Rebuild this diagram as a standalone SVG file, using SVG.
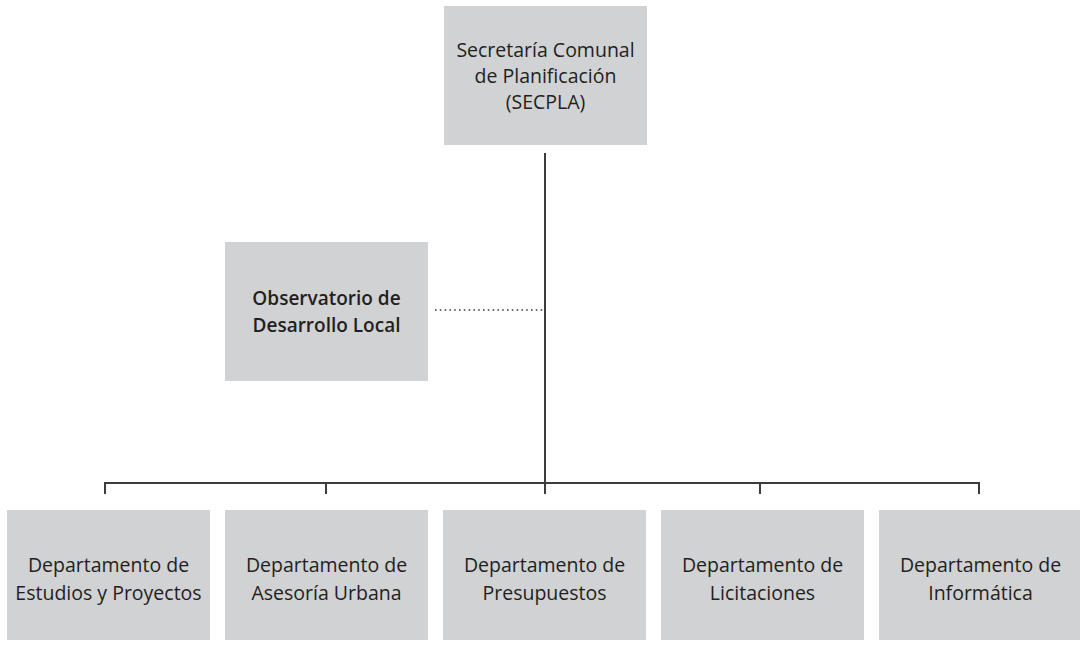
<svg xmlns="http://www.w3.org/2000/svg" width="1080" height="647" viewBox="0 0 1080 647">
<style>
.box{fill:#d1d2d4}
.t{font-family:"Open Sans","Noto Sans",sans-serif;font-size:19.5px;fill:#231f20;text-anchor:middle}
.b{font-weight:600;font-size:19px}
.ln{stroke:#3c3c3c;stroke-width:2;fill:none}
.dot{stroke:#3c3c3c;stroke-width:1.6;stroke-dasharray:1.6 3.2;fill:none}
</style>
<rect width="1080" height="647" fill="#ffffff"/>
<g id="connectors">
<path class="ln" d="M545 153V483M105 483H979M105 482V494M326 482V494M545 482V494M760 482V494M979 482V494"/>
<path class="dot" d="M435 310H545"/>
</g>
<g id="secpla">
<rect class="box" x="444" y="6" width="203" height="139"/>
<text class="t" x="545.5" y="57">Secretaría Comunal</text>
<text class="t" x="545.5" y="83">de Planificación</text>
<text class="t" x="545.5" y="109">(SECPLA)</text>
</g>
<g id="observatorio">
<rect class="box" x="225" y="242" width="203" height="139"/>
<text class="t b" x="326.5" y="305">Observatorio de</text>
<text class="t b" x="326.5" y="332">Desarrollo Local</text>
</g>
<g id="estudios">
<rect class="box" x="7" y="510" width="203" height="130"/>
<text class="t" x="108.5" y="572">Departamento de</text>
<text class="t" x="108.5" y="600">Estudios y Proyectos</text>
</g>
<g id="asesoria">
<rect class="box" x="225" y="510" width="203" height="130"/>
<text class="t" x="326.5" y="572">Departamento de</text>
<text class="t" x="326.5" y="600">Asesoría Urbana</text>
</g>
<g id="presupuestos">
<rect class="box" x="443" y="510" width="203" height="130"/>
<text class="t" x="544.5" y="572">Departamento de</text>
<text class="t" x="544.5" y="600">Presupuestos</text>
</g>
<g id="licitaciones">
<rect class="box" x="661" y="510" width="203" height="130"/>
<text class="t" x="762.5" y="572">Departamento de</text>
<text class="t" x="762.5" y="600">Licitaciones</text>
</g>
<g id="informatica">
<rect class="box" x="879" y="510" width="203" height="130"/>
<text class="t" x="980.5" y="572">Departamento de</text>
<text class="t" x="980.5" y="600">Informática</text>
</g>
</svg>
